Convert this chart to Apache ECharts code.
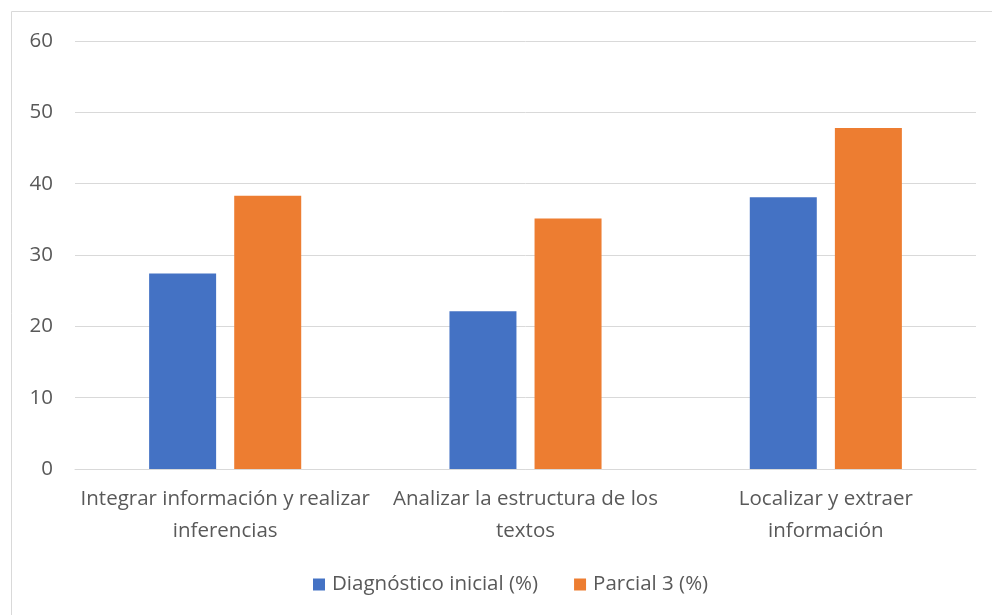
<!DOCTYPE html>
<html><head><meta charset="utf-8">
<script src="https://cdn.jsdelivr.net/npm/echarts@6/dist/echarts.min.js"></script>
<style>html,body{margin:0;padding:0;background:#fff}#c{width:992px;height:615px}</style>
</head><body><div id="c"></div>
<script>
const categories = ["Integrar información y realizar inferencias", "Analizar la estructura de los textos", "Localizar y extraer información"];
const categoryLabels = ["Integrar información y realizar\ninferencias", "Analizar la estructura de los\ntextos", "Localizar y extraer\ninformación"];
const seriesNames = ["Diagnóstico inicial (%)", "Parcial 3 (%)"];
const diagnostico = [27.4, 22.1, 38.1];
const parcial3 = [38.3, 35.1, 47.8];
const colors = ["#4472C4", "#ED7D31"];
const font = "'Open Sans', sans-serif";
const chart = echarts.init(document.getElementById('c'));
chart.setOption({
  animation: false,
  graphic: [{type:'rect', shape:{x:11.5,y:11.5,width:1100,height:800}, style:{fill:'none', stroke:'#d9d9d9', lineWidth:1}, silent:true}],
  grid: {left: 75, right: 16, top: 41, bottom: 146},
  legend: {
    bottom: 15, left: 308, itemWidth: 12, itemHeight: 12, itemGap: 36, icon: 'rect',
    textStyle: {fontFamily: font, fontSize: 20.5, color: '#595959', padding: [0, 0, 0, 2]},
    data: seriesNames
  },
  xAxis: {
    type: 'category', data: categories,
    axisLine: {lineStyle: {color: '#d9d9d9', width: 1}}, axisTick: {show: false},
    axisLabel: {fontFamily: font, fontSize: 20.5, color: '#595959', interval: 0, lineHeight: 32, margin: 14,
      formatter: (v, i) => categoryLabels[i]}
  },
  yAxis: {
    type: 'value', min: 0, max: 60, interval: 10,
    axisLine: {show: false}, axisTick: {show: false},
    splitLine: {lineStyle: {color: '#d9d9d9', width: 1}},
    axisLabel: {fontFamily: font, fontSize: 20.5, color: '#595959', margin: 22}
  },
  series: [
    {name: seriesNames[0], type: 'bar', data: diagnostico, itemStyle: {color: colors[0]}, barWidth: 67, barGap: '27%'},
    {name: seriesNames[1], type: 'bar', data: parcial3, itemStyle: {color: colors[1]}, barWidth: 67, barGap: '27%'}
  ]
});
</script></body></html>
